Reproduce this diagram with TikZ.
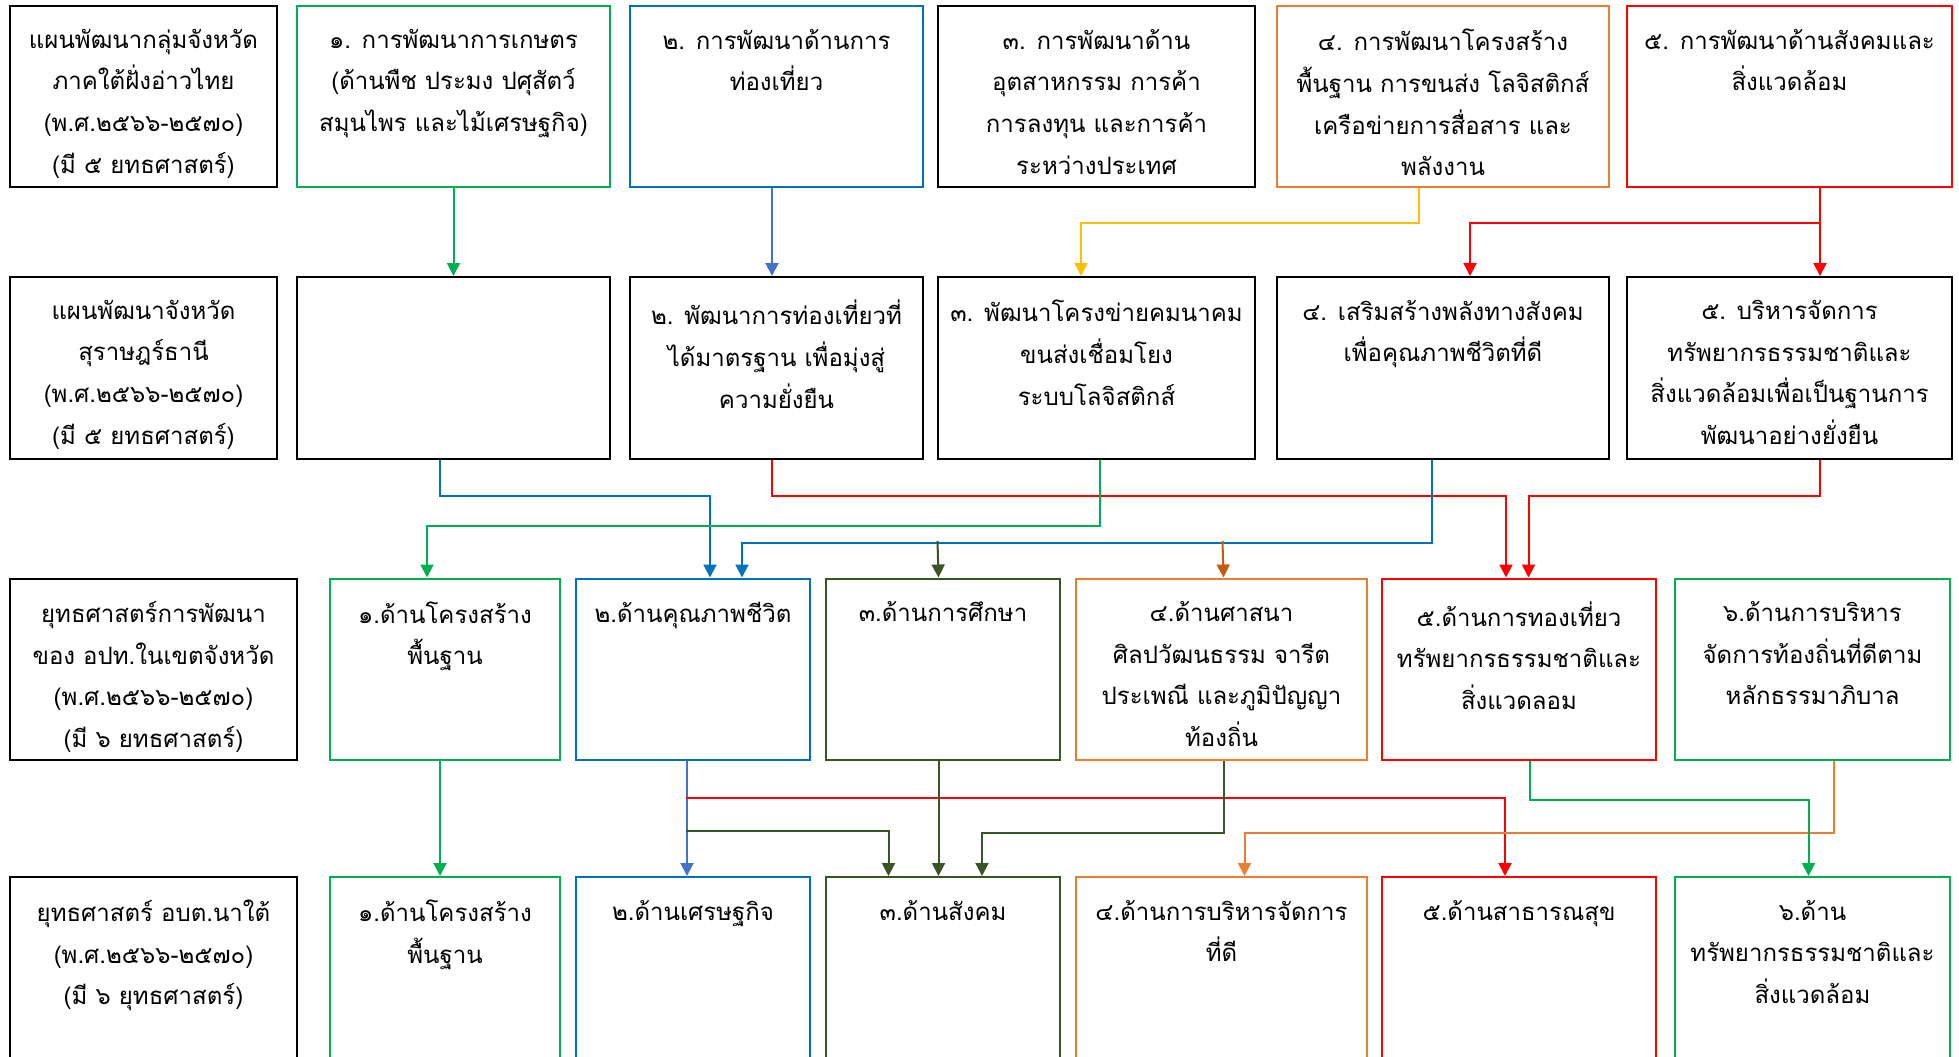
\documentclass[tikz,border=0pt]{standalone}
\usepackage{fontspec}
\newfontfamily\thaifont[Script=Thai]{Loma}
\usetikzlibrary{arrows.meta}
\definecolor{cg}{HTML}{00B050}
\definecolor{cb}{HTML}{0070C0}
\definecolor{cbl}{HTML}{4472C4}
\definecolor{co}{HTML}{ED7D31}
\definecolor{cr}{HTML}{FF0000}
\definecolor{cy}{HTML}{FFC000}
\definecolor{cdg}{HTML}{375623}
\definecolor{cbr}{HTML}{C55A11}
\tikzset{
 box/.style={draw, line width=2pt, inner sep=0pt, anchor=north west},
 txt/.style={anchor=north, align=center, font=\thaifont\fontsize{24}{41.6}\selectfont, inner sep=0pt},
 conn/.style={line width=2pt},
 arr/.style={conn, -{Triangle[width=13pt,length=13pt]}},
}
\newcommand\bx[7]{%
 \node[box, draw=#6, minimum width={(#4-#2)*1pt}, minimum height={(#5-#3)*1pt}] (#1) at (#2,#3) {};
 \node[txt] (#1t) at ([yshift=-24pt]#1.north) {#7};
}
\begin{document}
\begin{tikzpicture}[x=1pt,y=-1pt]
\useasboundingbox[fill=white] (0,0) rectangle (1959,1057);
% row 1
\bx{r1c0}{9}{5}{276}{186}{black}{แผนพัฒนากลุ่มจังหวัด\\ภาคใต้ฝั่งอ่าวไทย\\(พ.ศ.๒๕๖๖-๒๕๗๐)\\(มี ๕ ยทธศาสตร์)}
\bx{r1c1}{296}{5}{609}{186}{cg}{๑. การพัฒนาการเกษตร\\(ด้านพืช ประมง ปศุสัตว์\\สมุนไพร และไม้เศรษฐกิจ)}
\bx{r1c2}{629}{5}{922}{186}{cb}{๒. การพัฒนาด้านการ\\ท่องเที่ยว}
\bx{r1c3}{937}{5}{1254}{186}{black}{๓. การพัฒนาด้าน\\อุตสาหกรรม การค้า\\การลงทุน และการค้า\\ระหว่างประเทศ}
\bx{r1c4}{1276}{5}{1608}{186}{co}{๔. การพัฒนาโครงสร้าง\\พื้นฐาน การขนส่ง โลจิสติกส์\\เครือข่ายการสื่อสาร และ\\พลังงาน}
\bx{r1c5}{1626}{5}{1951}{186}{cr}{๕. การพัฒนาด้านสังคมและ\\สิ่งแวดล้อม}
% row 2
\bx{r2c0}{9}{276}{276}{457.5}{black}{แผนพัฒนาจังหวัด\\สุราษฎร์ธานี\\(พ.ศ.๒๕๖๖-๒๕๗๐)\\(มี ๕ ยทธศาสตร์)}
\bx{r2c1}{296}{276}{609}{457.5}{black}{}
\bx{r2c2}{629}{276}{922}{457.5}{black}{๒. พัฒนาการท่องเที่ยวที่\\ได้มาตรฐาน เพื่อมุ่งสู่\\ความยั่งยืน}
\bx{r2c3}{937}{276}{1254}{457.5}{black}{๓. พัฒนาโครงข่ายคมนาคม\\ขนส่งเชื่อมโยง\\ระบบโลจิสติกส์}
\bx{r2c4}{1276}{276}{1608}{457.5}{black}{๔. เสริมสร้างพลังทางสังคม\\เพื่อคุณภาพชีวิตที่ดี}
\bx{r2c5}{1626}{276}{1951}{457.5}{black}{๕. บริหารจัดการ\\ทรัพยากรธรรมชาติและ\\สิ่งแวดล้อมเพื่อเป็นฐานการ\\พัฒนาอย่างยั่งยืน}
% row 3
\bx{r3d0}{9}{577.5}{296}{759}{black}{ยุทธศาสตร์การพัฒนา\\ของ อปท.ในเขตจังหวัด\\(พ.ศ.๒๕๖๖-๒๕๗๐)\\(มี ๖ ยทธศาสตร์)}
\bx{r3d1}{329}{577.5}{559}{759}{cg}{๑.ด้านโครงสร้าง\\พื้นฐาน}
\bx{r3d2}{575}{577.5}{809}{759}{cb}{๒.ด้านคุณภาพชีวิต}
\bx{r3d3}{825}{577.5}{1059}{759}{cdg}{๓.ด้านการศึกษา}
\bx{r3d4}{1075}{577.5}{1366}{759}{co}{๔.ด้านศาสนา\\ศิลปวัฒนธรรม จารีต\\ประเพณี และภูมิปัญญา\\ท้องถิ่น}
\bx{r3d5}{1381}{577.5}{1655}{759}{cr}{๕.ด้านการทองเที่ยว\\ทรัพยากรธรรมชาติและ\\สิ่งแวดลอม}
\bx{r3d6}{1674}{577.5}{1949}{759}{cg}{๖.ด้านการบริหาร\\จัดการท้องถิ่นที่ดีตาม\\หลักธรรมาภิบาล}
% row 4
\bx{r4d0}{9}{876}{296}{1057}{black}{ยุทธศาสตร์ อบต.นาใต้\\(พ.ศ.๒๕๖๖-๒๕๗๐)\\(มี ๖ ยุทธศาสตร์)}
\bx{r4d1}{329}{876}{559}{1057}{cg}{๑.ด้านโครงสร้าง\\พื้นฐาน}
\bx{r4d2}{575}{876}{809}{1057}{cb}{๒.ด้านเศรษฐกิจ}
\bx{r4d3}{825}{876}{1059}{1057}{cdg}{๓.ด้านสังคม}
\bx{r4d4}{1075}{876}{1366}{1057}{co}{๔.ด้านการบริหารจัดการ\\ที่ดี}
\bx{r4d5}{1381}{876}{1655}{1057}{cr}{๕.ด้านสาธารณสุข}
\bx{r4d6}{1674}{876}{1949}{1057}{cg}{๖.ด้าน\\ทรัพยากรธรรมชาติและ\\สิ่งแวดล้อม}
% connectors row1 -> row2
\draw[arr,cg] (r1c1.south) -- (r2c1.north);
\draw[arr,cbl] ([xshift=-4.5pt]r1c2.south) -- ([xshift=-4.5pt]r2c2.north);
\draw[arr,cy] ([xshift=-24.5pt]r1c4.south) -- ++(0,35) -| ([xshift=-15.5pt]r2c3.north);
\draw[arr,cr] ([xshift=30.5pt]r1c5.south) -- ([xshift=30.5pt]r2c5.north);
\draw[arr,cr] ([xshift=30.5pt]r1c5.south) -- ++(0,35) -| ([xshift=27pt]r2c4.north);
% row2 -> row3
\draw[arr,cb] ([xshift=-13.5pt]r2c1.south) -- ++(0,36.5) -| ([xshift=17pt]r3d2.north);
\draw[arr,cr] ([xshift=-4.5pt]r2c2.south) -- ++(0,36.5) -| ([xshift=-13pt]r3d5.north);
\draw[arr,cg] ([xshift=3.5pt]r2c3.south) -- ++(0,66.5) -| ([xshift=-18pt]r3d1.north);
\draw[arr,cb] ([xshift=-11pt]r2c4.south) -- ++(0,83.5) -| ([xshift=49pt]r3d2.north);
\coordinate (jdg) at (937.5,541);
\coordinate (jbr) at (1222.5,541);
\draw[arr,cdg] (jdg) -- ([xshift=-4.5pt]r3d3.north);
\draw[arr,cbr] (jbr) -- ([xshift=2pt]r3d4.north);
\draw[arr,cr] ([xshift=30.5pt]r2c5.south) -- ++(0,36.5) -| ([xshift=9.5pt]r3d5.north);
% row3 -> row4
\draw[arr,cg] ([xshift=-5pt]r3d1.south) -- ([xshift=-5pt]r4d1.north);
\draw[arr,cbl] ([xshift=-6pt]r3d2.south) -- ([xshift=-6pt]r4d2.north);
\coordinate (jr) at (686,797.5);
\coordinate (jg) at (686,831);
\draw[arr,cr] (jr) -| ([xshift=-14pt]r4d5.north);
\draw[arr,cdg] (jg) -| ([xshift=-54.5pt]r4d3.north);
\draw[arr,cdg] ([xshift=-4.5pt]r3d3.south) -- ([xshift=-4.5pt]r4d3.north);
\draw[arr,cdg] ([xshift=2pt]r3d4.south) -- ++(0,72) -| ([xshift=39pt]r4d3.north);
\draw[arr,co] ([xshift=21pt]r3d6.south) -- ++(0,72) -| ([xshift=23pt]r4d4.north);
\draw[arr,cg] ([xshift=11pt]r3d5.south) -- ++(0,38.5) -| ([xshift=-4pt]r4d6.north);
\end{tikzpicture}
\end{document}
